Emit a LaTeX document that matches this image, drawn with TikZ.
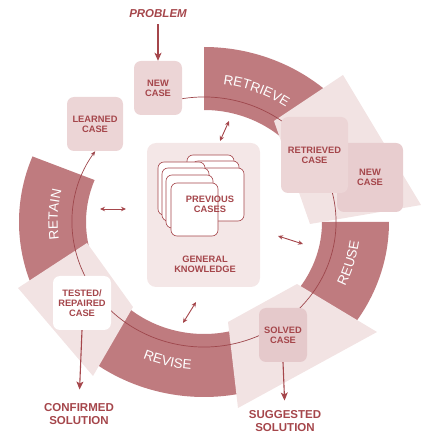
\documentclass[tikz,border=0pt]{standalone}
\usepackage{fontspec}
\setmainfont{Liberation Sans}
\usetikzlibrary{arrows.meta,decorations.text}

\definecolor{band}{HTML}{BF7B7F}
\definecolor{pale}{HTML}{F2E3E3}
\definecolor{boxpink}{HTML}{ECD5D6}
\definecolor{boxdeep}{HTML}{E8CDCF}
\definecolor{solvedpink}{HTML}{E5C9CB}
\definecolor{kbox}{HTML}{F4E7E7}
\definecolor{ink}{HTML}{A5464B}
\definecolor{wire}{HTML}{9E474C}

\newcommand\boxfont{\fontsize{9.3}{10.3}\selectfont\bfseries}
\newcommand\outfont{\fontsize{11.5}{12.5}\selectfont\bfseries}
\newcommand\bandfont{\fontsize{13.5}{16}\selectfont}

\begin{document}
\begin{tikzpicture}[x=1pt,y=1pt,
  casebox/.style={rounded corners=7pt, align=center, text=ink, font=\boxfont, inner sep=0pt},
  card/.style={draw=ink, line width=0.6pt, fill=white, rounded corners=6pt,
               minimum width=47pt, minimum height=53pt, inner sep=0pt},
  bandseg/.style={fill=band},
  paleshape/.style={fill=pale},
  cycleline/.style={draw=wire, line width=0.7pt},
  flow/.style={draw=ink, line width=1.1pt, -{Stealth[length=8pt,width=7pt,inset=2pt]}},
  link/.style={draw=ink, line width=0.9pt,
               {Stealth[length=5pt,width=4.5pt]}-{Stealth[length=5pt,width=4.5pt]}},
  outlabel/.style={text=ink, font=\outfont, align=center, inner sep=0pt},
  bandtext/.style={decorate, decoration={text along path, text align=center,
                   text color=white, text={#1}}}
]
\useasboundingbox (0,0) rectangle (421,437);

% ---- the four phase bands of the cycle ----
\begin{scope}[shift={(204,215)}]
  \fill[bandseg] (90:185 and 175) arc[start angle=90, end angle=40, x radius=185, y radius=175]
    -- (40:118 and 112) arc[start angle=40, end angle=90, x radius=118, y radius=112] -- cycle;
  \fill[bandseg] (0:185 and 175) arc[start angle=0, end angle=-50, x radius=185, y radius=175]
    -- (-50:118 and 112) arc[start angle=-50, end angle=0, x radius=118, y radius=112] -- cycle;
  \fill[bandseg] (-75:185 and 175) arc[start angle=-75, end angle=-132, x radius=185, y radius=175]
    -- (-132:118 and 112) arc[start angle=-132, end angle=-75, x radius=118, y radius=112] -- cycle;
  \fill[bandseg] (158:185 and 175) arc[start angle=158, end angle=205, x radius=185, y radius=175]
    -- (205:118 and 112) arc[start angle=205, end angle=158, x radius=118, y radius=112] -- cycle;
\end{scope}

% ---- pale panels under the case boxes ----
\fill[paleshape] (343,362) -- (421,232) -- (310,213) -- (274,316) -- cycle;
\fill[paleshape] (228,115) -- (297,153) -- (377,105) -- (238,29) -- cycle;
\fill[paleshape] (87,194) -- (133,130) -- (93,61) -- (18,149) -- cycle;

% ---- band titles ----
\begin{scope}[shift={(204,215)}]
  \path[bandtext={|\bandfont|RETRIEVE}] (99:146.3 and 138.7)
    arc[start angle=99, end angle=39, x radius=146.3, y radius=138.7];
  \path[bandtext={|\bandfont|REUSE}] (-46.5:156.5 and 148.3)
    arc[start angle=-46.5, end angle=13.5, x radius=156.5, y radius=148.3];
  \path[bandtext={|\bandfont|REVISE}] (-134:156.5 and 148.3)
    arc[start angle=-134, end angle=-74, x radius=156.5, y radius=148.3];
  \path[bandtext={|\bandfont|RETAIN}] (207:146.3 and 138.7)
    arc[start angle=207, end angle=147, x radius=146.3, y radius=138.7];
  % thin cycle line, ending in the learned case
  \draw[cycleline, -{Stealth[length=5pt,width=4pt]}] (110:132 and 125)
    arc[start angle=110, end angle=-214.5, x radius=132, y radius=125];
\end{scope}

% ---- case boxes ----
\node[casebox, fill=boxpink, minimum width=48pt, minimum height=54pt] (newtop) at (158,349) {NEW\\CASE};
\node[casebox, fill=boxpink, minimum width=56pt, minimum height=54pt] (learned) at (95,313) {LEARNED\\CASE};
\node[casebox, fill=boxdeep, minimum width=66pt, minimum height=69pt] (newright) at (370,259.5) {NEW\\CASE};
\node[casebox, fill=boxpink, minimum width=67pt, minimum height=76pt] (retrieved) at (314.5,282) {RETRIEVED\\CASE};
\node[casebox, fill=white, minimum width=58pt, minimum height=54pt] (tested) at (82,134) {TESTED/\\REPAIRED\\CASE};
\node[casebox, fill=solvedpink, minimum width=48pt, minimum height=54pt] (solved) at (283,102) {SOLVED\\CASE};

% ---- knowledge base in the middle ----
\node[casebox, fill=kbox, rounded corners=9pt, minimum width=113pt, minimum height=144pt] (kb) at (203.5,222) {};
\node[card] (r1) at (210.5,255.5) {};
\node[card] (r2) at (215.5,249.5) {};
\node[card] (r3) at (220.5,242.5) {};
\node[card] (l1) at (181.5,248.5) {};
\node[card] (l2) at (185.5,242.5) {};
\node[card] (l3) at (189.5,235.5) {};
\node[card] (l4) at (194.5,227.5) {};
\node[text=ink, font=\boxfont, align=center, inner sep=0pt] (prev) at (210,233) {PREVIOUS\\CASES};
\node[text=ink, font=\boxfont, align=center, inner sep=0pt] (general) at (205,173) {GENERAL\\KNOWLEDGE};

% ---- inputs and outputs ----
\node[outlabel, font=\outfont\itshape] (problem) at (158,423) {PROBLEM};
\node[outlabel] (confirmed) at (79,23) {CONFIRMED\\SOLUTION};
\node[outlabel] (suggested) at (285,16) {SUGGESTED\\SOLUTION};

\draw[flow, shorten <=6pt] (problem) -- (newtop);
\draw[flow, shorten >=14pt] (tested.south) -- (confirmed.north);
\draw[flow, shorten >=10pt] (solved.south) -- (suggested.north);

% ---- exchanges with the knowledge base ----
\coordinate (kTopA) at (229,316);
\coordinate (kTopB) at (220,296);
\coordinate (kLeftA) at (100,228);
\coordinate (kLeftB) at (126,228);
\coordinate (kRightA) at (278,201);
\coordinate (kRightB) at (303,193);
\coordinate (kBotA) at (196,135);
\coordinate (kBotB) at (183,114);
\draw[link] (kTopA) -- (kTopB);
\draw[link] (kLeftA) -- (kLeftB);
\draw[link] (kRightA) -- (kRightB);
\draw[link] (kBotA) -- (kBotB);
\end{tikzpicture}
\end{document}
